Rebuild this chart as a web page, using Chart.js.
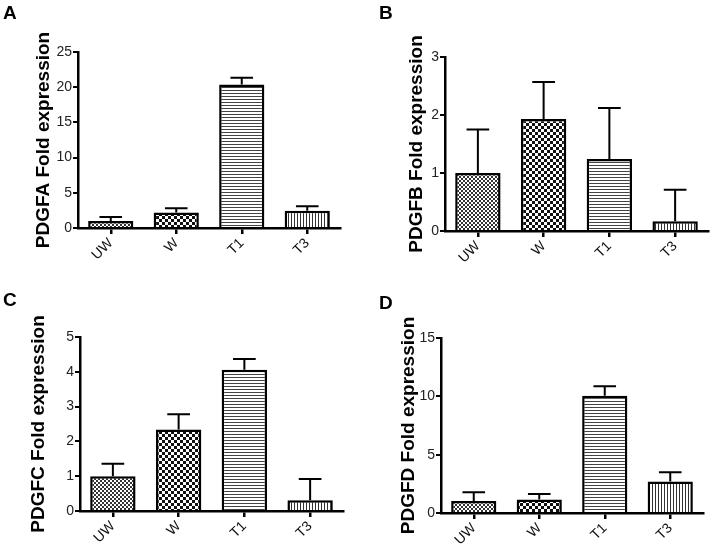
<!DOCTYPE html>
<html>
<head>
<meta charset="utf-8">
<script src="https://cdn.jsdelivr.net/npm/chart.js@4/dist/chart.umd.min.js"></script>
<style>
  body { margin: 0; background: #fff; }
  #wrap { position: relative; width: 710px; height: 545px; font-family: "Liberation Sans", Arial, sans-serif; }
  .panel { position: absolute; }
  .letter { position: absolute; font-weight: bold; font-size: 19px; line-height: 19px; color: #000; }
</style>
</head>
<body>
<div id="wrap">
  <div class="panel" style="left:0;top:0;width:355px;height:272px"><canvas id="chartA" width="355" height="272"></canvas></div>
  <div class="panel" style="left:355px;top:0;width:355px;height:272px"><canvas id="chartB" width="355" height="272"></canvas></div>
  <div class="panel" style="left:0;top:272px;width:355px;height:273px"><canvas id="chartC" width="355" height="273"></canvas></div>
  <div class="panel" style="left:355px;top:272px;width:355px;height:273px"><canvas id="chartD" width="355" height="273"></canvas></div>
  <div class="letter" style="left:3px;top:3px">A</div>
  <div class="letter" style="left:379px;top:3px">B</div>
  <div class="letter" style="left:3px;top:290px">C</div>
  <div class="letter" style="left:379px;top:293px">D</div>
</div>
<script>
// groups and values (mean, upper error)
const groups = ["UW", "W", "T1", "T3"];

const pdgfaMean = [1.0, 2.2, 20.4, 2.45];
const pdgfaErr = [0.55, 0.6, 0.95, 0.65];

const pdgfbMean = [1.0, 1.93, 1.24, 0.17];
const pdgfbErr = [0.75, 0.64, 0.88, 0.54];

const pdgfcMean = [1.0, 2.34, 4.06, 0.31];
const pdgfcErr = [0.36, 0.44, 0.31, 0.61];

const pdgfdMean = [1.03, 1.15, 10.06, 2.69];
const pdgfdErr = [0.74, 0.48, 0.8, 0.8];

// hatch fills, one per group
function makePattern(size, draw) {
  const c = document.createElement("canvas");
  c.width = size; c.height = size;
  const g = c.getContext("2d");
  g.fillStyle = "#fff";
  g.fillRect(0, 0, size, size);
  draw(g);
  return document.createElement("canvas").getContext("2d").createPattern(c, "repeat");
}
const fineCheck = makePattern(4, g => {
  g.fillStyle = "#333";
  g.fillRect(0, 0, 2, 2);
  g.fillRect(2, 2, 2, 2);
});
const bigCheck = makePattern(6, g => {
  g.fillStyle = "#111";
  g.fillRect(0, 0, 3, 3);
  g.fillRect(3, 3, 3, 3);
});
const hLines = makePattern(3, g => {
  g.fillStyle = "#444";
  g.fillRect(0, 0, 3, 1);
});
const vLines = makePattern(3, g => {
  g.fillStyle = "#333";
  g.fillRect(0, 0, 1, 3);
});
const fills = [fineCheck, bigCheck, hLines, vLines];

// upper error bars with caps
const errorBars = {
  id: "errorBars",
  afterDatasetsDraw(chart) {
    const ctx = chart.ctx;
    const yScale = chart.scales.y;
    const ds = chart.data.datasets[0];
    const meta = chart.getDatasetMeta(0);
    ctx.save();
    ctx.strokeStyle = "#000";
    ctx.lineWidth = 2;
    meta.data.forEach((bar, i) => {
      const top = yScale.getPixelForValue(ds.data[i] + ds.errors[i]);
      const half = bar.width / 4;
      ctx.beginPath();
      ctx.moveTo(bar.x, bar.y);
      ctx.lineTo(bar.x, top);
      ctx.moveTo(bar.x - half, top);
      ctx.lineTo(bar.x + half, top);
      ctx.stroke();
    });
    ctx.restore();
  }
};

function drawPanel(id, title, means, errs, yMax, yStep, box) {
  new Chart(document.getElementById(id), {
    type: "bar",
    data: {
      labels: groups,
      datasets: [{
        data: means,
        errors: errs,
        backgroundColor: fills,
        borderColor: "#000",
        borderWidth: 2.5,
        barPercentage: 0.69,
        categoryPercentage: 1
      }]
    },
    options: {
      responsive: false,
      animation: false,
      layout: { padding: { left: 0, right: box.right, top: box.top, bottom: 0 } },
      plugins: { legend: { display: false }, tooltip: { enabled: false } },
      scales: {
        x: {
          offset: true,
          border: { display: true, color: "#000", width: 2.5 },
          grid: { display: true, drawOnChartArea: false, offset: false, color: "#000", lineWidth: 2.5, tickLength: 6 },
          ticks: { color: "#111", font: { family: "Liberation Sans", size: 14 }, minRotation: 45, maxRotation: 45, padding: 1 },
          afterFit: s => { s.height = box.xh; }
        },
        y: {
          min: 0,
          max: yMax,
          border: { display: true, color: "#000", width: 2.5 },
          grid: { display: true, drawOnChartArea: false, color: "#000", lineWidth: 2, tickLength: 5 },
          ticks: { stepSize: yStep, color: "#222", font: { family: "Liberation Sans", size: 14 }, padding: 1 },
          title: {
            display: true,
            text: title,
            color: "#000",
            font: { family: "Liberation Sans", size: 19, weight: "bold", lineHeight: 1 },
            padding: { top: box.tp, bottom: 0 }
          },
          afterFit: s => { s.width = box.axis; }
        }
      }
    },
    plugins: [errorBars]
  });
}

drawPanel("chartA", "PDGFA Fold expression", pdgfaMean, pdgfaErr, 25, 5,
  { axis: 78, top: 52, right: 15, xh: 44, tp: 34 });
drawPanel("chartB", "PDGFB Fold expression", pdgfbMean, pdgfbErr, 3, 1,
  { axis: 90, top: 57, right: 2, xh: 41, tp: 52 });
drawPanel("chartC", "PDGFC Fold expression", pdgfcMean, pdgfcErr, 5, 1,
  { axis: 80, top: 65, right: 12, xh: 34, tp: 29 });
drawPanel("chartD", "PDGFD Fold expression", pdgfdMean, pdgfdErr, 15, 5,
  { axis: 86, top: 66, right: 7, xh: 32, tp: 44 });
</script>
</body>
</html>
